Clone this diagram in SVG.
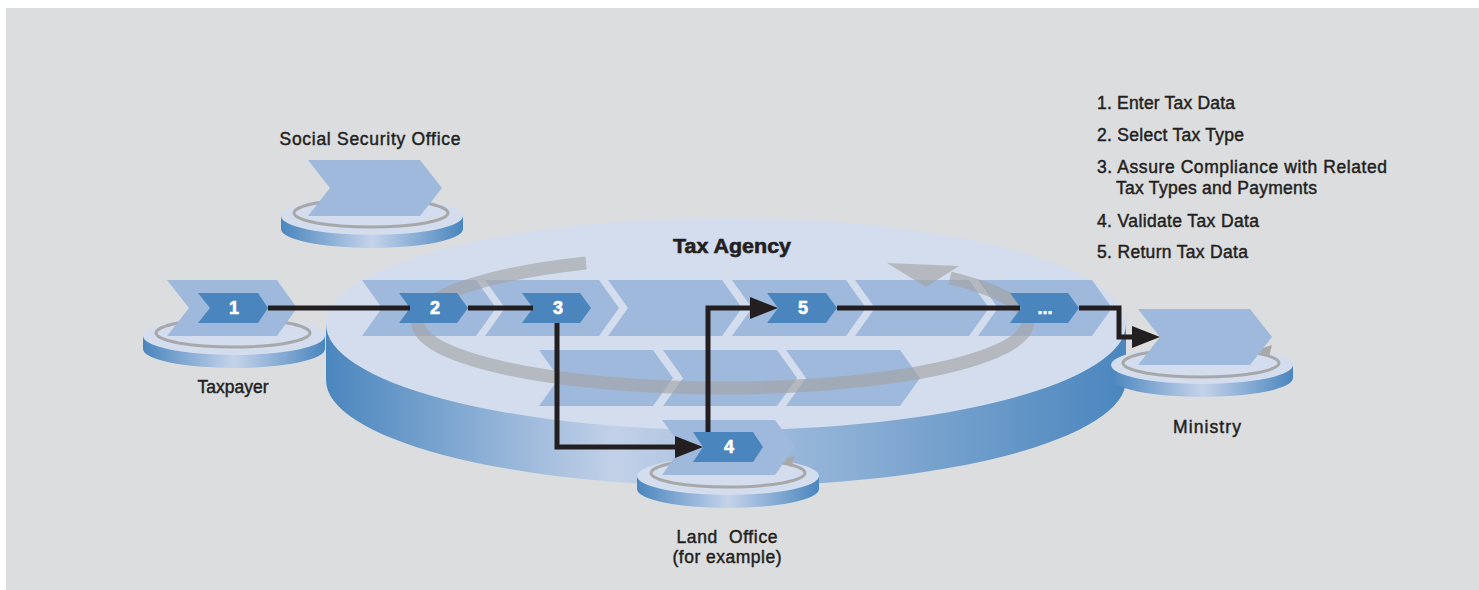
<svg xmlns="http://www.w3.org/2000/svg" width="1479" height="590" viewBox="0 0 1479 590">
<defs>
<style>
.lbl{font-family:"Liberation Sans",Arial,sans-serif;font-size:17.5px;fill:#231f20;stroke:#231f20;stroke-width:0.45px;}
.leg{font-family:"Liberation Sans",Arial,sans-serif;font-size:17.5px;fill:#231f20;stroke:#231f20;stroke-width:0.45px;}
.num{font-family:"Liberation Sans",Arial,sans-serif;font-size:18px;font-weight:bold;fill:#ffffff;text-anchor:middle;stroke:#ffffff;stroke-width:0.6px;}
.big{fill:#9fb9dc;}
.inner{fill:#4a86bd;}
.face{fill:#d3ddee;}
.ring{fill:none;stroke:#a8a8a8;stroke-width:3;}
.conn{fill:none;stroke:#231f20;stroke-width:5;stroke-linejoin:miter;}
</style>
<linearGradient id="sideSmall" x1="0" y1="0" x2="1" y2="0">
<stop offset="0" stop-color="#4a86be"/>
<stop offset="0.5" stop-color="#c5d3ea"/>
<stop offset="1" stop-color="#4a86be"/>
</linearGradient>
<linearGradient id="sideBig" x1="326" y1="0" x2="1126" y2="0" gradientUnits="userSpaceOnUse">
<stop offset="0" stop-color="#4a86be"/>
<stop offset="0.36" stop-color="#c2d1e8"/>
<stop offset="1" stop-color="#4a86be"/>
</linearGradient>
<marker id="ah" markerUnits="userSpaceOnUse" markerWidth="28" markerHeight="22" refX="1" refY="11" orient="auto">
<path d="M0,0 L28,11 L0,22 Z" fill="#231f20"/>
</marker>
</defs>
<rect x="0" y="0" width="1479" height="590" fill="#ffffff"/>
<rect x="6" y="8" width="1473" height="582" fill="#dcdddf"/>

<g id="tax-agency">
<path d="M326 324 V380 A400 106 0 0 0 1126 380 V324 Z" fill="url(#sideBig)"/>
<ellipse class="face" cx="726" cy="324" rx="400" ry="106"/>
<path class="big" d="M362 280 H476 L496 308 L476 336 H362 L382 308 Z"/>
<path class="big" d="M485 280 H599 L619 308 L599 336 H485 L505 308 Z"/>
<path class="big" d="M608 280 H722 L742 308 L722 336 H608 L628 308 Z"/>
<path class="big" d="M732 280 H846 L866 308 L846 336 H732 L752 308 Z"/>
<path class="big" d="M855 280 H969 L989 308 L969 336 H855 L875 308 Z"/>
<path class="big" d="M978 280 H1092 L1112 308 L1092 336 H978 L998 308 Z"/>
<path class="big" d="M539 350 H653 L673 378 L653 406 H539 L559 378 Z"/>
<path class="big" d="M663 350 H777 L797 378 L777 406 H663 L683 378 Z"/>
<path class="big" d="M786 350 H900 L920 378 L900 406 H786 L806 378 Z"/>
<g opacity="0.62">
<path d="M586 263 A305 66 0 1 0 950 278" fill="none" stroke="#a3a3a3" stroke-width="13"/>
<path d="M887 263 L959 266 L926 287 Z" fill="#a3a3a3"/>
</g>
<text x="732" y="253" text-anchor="middle" textLength="118" lengthAdjust="spacingAndGlyphs" style="font-family:'Liberation Sans',Arial,sans-serif;font-size:19.5px;font-weight:bold;fill:#231f20;stroke:#231f20;stroke-width:0.6px">Tax Agency</text>
</g>

<g id="social-security-office">
<path d="M281 216 V229 A91 19 0 0 0 463 229 V216 Z" fill="url(#sideSmall)"/>
<ellipse class="face" cx="372" cy="216" rx="91" ry="19"/>
<ellipse class="ring" cx="371" cy="213" rx="77" ry="14"/>
<path class="big" d="M308 160 H420 L442 188 L420 216 H308 L330 188 Z"/>
<text class="lbl" x="370" y="145" text-anchor="middle" textLength="181">Social Security Office</text>
</g>

<g id="taxpayer">
<path d="M143 336 V349 A91 19 0 0 0 325 349 V336 Z" fill="url(#sideSmall)"/>
<ellipse class="face" cx="234" cy="336" rx="91" ry="19"/>
<ellipse class="ring" cx="233" cy="333" rx="77" ry="14"/>
<path class="big" d="M167 280 H277 L297 308 L277 336 H167 L189 308 Z"/>
<path class="inner" d="M198 293 H258 L268 308 L258 323 H198 L210 308 Z"/>
<text class="num" x="234" y="314">1</text>
<text class="lbl" x="233" y="393" text-anchor="middle" textLength="71">Taxpayer</text>
</g>

<g id="ministry">
<path d="M1111 365 V378 A91 19 0 0 0 1293 378 V365 Z" fill="url(#sideSmall)"/>
<ellipse class="face" cx="1202" cy="365" rx="91" ry="19"/>
<ellipse class="ring" cx="1201" cy="363" rx="78" ry="14"/>
<path d="M1257 350 L1272 345 L1269 357 Z" fill="#a8a8a8"/>
<path class="big" d="M1138 309 H1250 L1272 337 L1250 365 H1138 L1160 337 Z"/>
<text class="lbl" x="1207" y="433" text-anchor="middle" textLength="68">Ministry</text>
</g>

<g id="land-office">
<path d="M637 476 V489 A91 19 0 0 0 819 489 V476 Z" fill="url(#sideSmall)"/>
<ellipse class="face" cx="728" cy="476" rx="91" ry="19"/>
<ellipse class="ring" cx="728" cy="473" rx="77" ry="14"/>
<path d="M780 460 L795 456 L791 467 Z" fill="#a8a8a8"/>
<path class="big" d="M662 420 H775 L795 447 L775 475 H662 L682 447 Z"/>
<path class="inner" d="M693 432 H753 L763 447 L753 462 H693 L703 447 Z"/>
<text class="num" x="729" y="453">4</text>
<text class="lbl" x="727" y="543" text-anchor="middle" textLength="101" style="white-space:pre">Land  Office</text>
<text class="lbl" x="727" y="563" text-anchor="middle" textLength="109">(for example)</text>
</g>

<g id="step-2">
<path class="inner" d="M399 293 H457 L468 308 L457 323 H399 L410 308 Z"/>
<text class="num" x="435" y="314">2</text>
</g>
<g id="step-3">
<path class="inner" d="M522 293 H580 L591 308 L580 323 H522 L533 308 Z"/>
<text class="num" x="558" y="314">3</text>
</g>
<g id="step-5">
<path class="inner" d="M767 293 H826 L837 308 L826 323 H767 L778 308 Z"/>
<text class="num" x="803" y="314">5</text>
</g>
<g id="step-more">
<path class="inner" d="M1010 293 H1068 L1079 308 L1068 323 H1010 L1021 308 Z"/>
<text class="num" x="1045" y="314">...</text>
</g>

<g id="connectors">
<path class="conn" d="M268 308 H410"/>
<path class="conn" d="M468 308 H533"/>
<path class="conn" d="M557 323 V447 H676" marker-end="url(#ah)"/>
<path class="conn" d="M708 432 V308 H751" marker-end="url(#ah)"/>
<path class="conn" d="M837 308 H1020"/>
<path class="conn" d="M1079 308 H1119 V337 H1133" marker-end="url(#ah)"/>
</g>

<g id="legend">
<text class="leg" x="1097" y="109" textLength="138">1. Enter Tax Data</text>
<text class="leg" x="1097" y="141" textLength="147">2. Select Tax Type</text>
<text class="leg" x="1097" y="173" textLength="290">3. Assure Compliance with Related</text>
<text class="leg" x="1116" y="194" textLength="201">Tax Types and Payments</text>
<text class="leg" x="1097" y="227" textLength="162">4. Validate Tax Data</text>
<text class="leg" x="1097" y="258" textLength="151">5. Return Tax Data</text>
</g>
</svg>
